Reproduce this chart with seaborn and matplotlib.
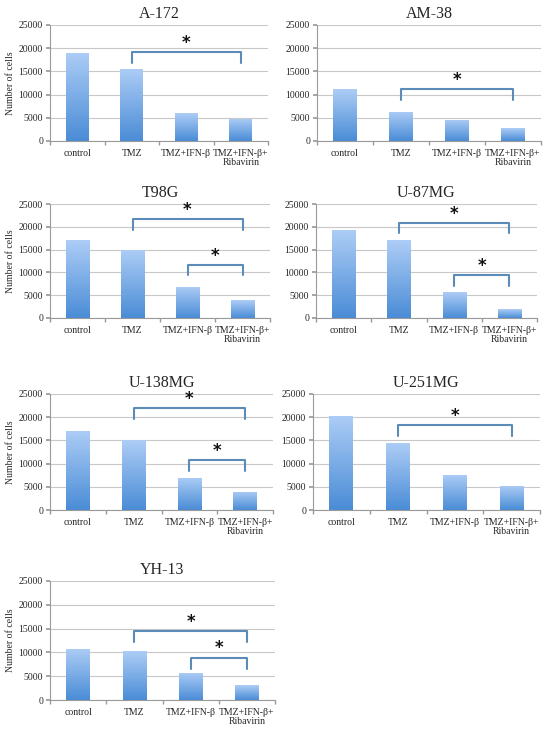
import numpy as np
import pandas as pd
import matplotlib
matplotlib.use("Agg")
import matplotlib.pyplot as plt
from matplotlib.colors import LinearSegmentedColormap
import seaborn as sns

# treatment groups (x axis)
groups = ["control", "TMZ", "TMZ+IFN-\u03b2", "TMZ+IFN-\u03b2+\nRibavirin"]

# number of cells per cell line
a172 = [19000, 15600, 6000, 4800]
am38 = [11200, 6300, 4600, 2700]
t98g = [17100, 15000, 6900, 3900]
u87mg = [19200, 17000, 5600, 1950]
u138mg = [17100, 15000, 6950, 3950]
u251mg = [20300, 14400, 7550, 5250]
yh13 = [10800, 10200, 5700, 3150]

cell_lines = ["A-172", "AM-38", "T98G", "U-87MG", "U-138MG", "U-251MG", "YH-13"]
values = [a172, am38, t98g, u87mg, u138mg, u251mg, yh13]

# significance brackets: (from group, to group)
sig_pairs = {
    "A-172": [(1, 3)],
    "AM-38": [(1, 3)],
    "T98G": [(1, 3), (2, 3)],
    "U-87MG": [(1, 3), (2, 3)],
    "U-138MG": [(1, 3), (2, 3)],
    "U-251MG": [(1, 3)],
    "YH-13": [(1, 3), (2, 3)],
}
# bracket top levels (data units) for each comparison above
bracket_levels = {
    "A-172": [19200],
    "AM-38": [11100],
    "T98G": [21650, 11650],
    "U-87MG": [20900, 9400],
    "U-138MG": [21900, 10800],
    "U-251MG": [18300],
    "YH-13": [14450, 8850],
}

# axes boxes in pixels: left, top, right, bottom
W, H = 550, 748
boxes = {
    "A-172": (50, 25, 268, 141),
    "AM-38": (317, 25, 541, 141),
    "T98G": (50, 204, 270, 318),
    "U-87MG": (316, 204, 537, 318),
    "U-138MG": (50, 394, 273, 510),
    "U-251MG": (313, 394, 540, 510),
    "YH-13": (50, 581, 275, 700),
}

sns.set_theme(style="white")
plt.rcParams["font.family"] = ["Liberation Serif", "DejaVu Serif"]

grad = LinearSegmentedColormap.from_list("bar", ["#4a8cd6", "#adcdf6"])
bracket_color = "#5b8bb8"

fig = plt.figure(figsize=(W / 100, H / 100), dpi=100)

for name, vals in zip(cell_lines, values):
    l, t, r, b = boxes[name]
    ax = fig.add_axes([l / W, 1 - b / H, (r - l) / W, (b - t) / H])
    df = pd.DataFrame({"group": groups, "cells": vals})
    sns.barplot(data=df, x="group", y="cells", ax=ax, width=0.42,
                color="#7fb0ea", zorder=2)

    # vertical gradient fill for each bar
    img = np.linspace(0, 1, 256).reshape(-1, 1)
    for p in list(ax.patches):
        x0, y0 = p.get_x(), p.get_y()
        w, h = p.get_width(), p.get_height()
        p.set_facecolor("none")
        p.set_edgecolor("none")
        im = ax.imshow(img, cmap=grad, origin="lower", aspect="auto",
                       extent=[x0, x0 + w, y0, y0 + h], zorder=2)
        im.set_clip_path(p)

    ax.set_xlim(-0.5, 3.5)
    ax.set_ylim(0, 25000)
    ax.set_yticks(range(0, 25001, 5000))
    ax.set_axisbelow(True)
    ax.yaxis.grid(True, color="#c8c8c8", linewidth=0.8)
    ax.xaxis.grid(False)
    for s in ["top", "right"]:
        ax.spines[s].set_visible(False)
    for s in ["left", "bottom"]:
        ax.spines[s].set_color("#9a9a9a")
        ax.spines[s].set_linewidth(0.8)

    ax.tick_params(axis="y", labelsize=7, length=3, color="#9a9a9a",
                   left=True, pad=2)
    ax.tick_params(axis="x", labelsize=7, length=0, pad=6)
    ax.set_xticks([-0.5, 0.5, 1.5, 2.5, 3.5], minor=True)
    ax.tick_params(axis="x", which="minor", bottom=True, length=3,
                   color="#9a9a9a", direction="out")
    ax.set_xticks(range(4))
    ax.set_xticklabels(groups, linespacing=1.0)
    ax.set_xlabel("")
    if l < 100:
        ax.set_ylabel("Number of cells", fontsize=7, labelpad=3)
    else:
        ax.set_ylabel("")
    ax.set_title(name, fontsize=11.5, pad=5)

    # significance brackets
    for (i, j), top in zip(sig_pairs[name], bracket_levels[name]):
        drop = 2300
        ax.plot([i, i, j, j], [top - drop, top, top, top - drop],
                color=bracket_color, linewidth=1.5, zorder=3,
                solid_joinstyle="round", clip_on=False)
        ax.text((i + j) / 2, top + 2000, "*", ha="center", va="center",
                fontsize=12, fontweight="bold", family="DejaVu Sans",
                color="#111111")

fig.savefig("out.png", dpi=100)
